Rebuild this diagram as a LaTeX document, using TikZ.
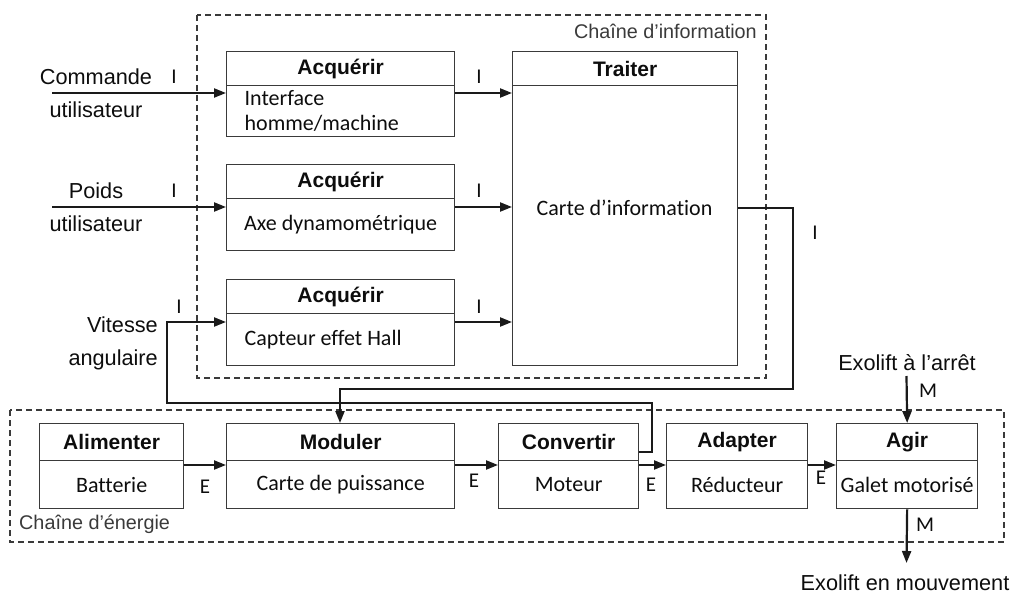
\documentclass[tikz,border=0pt]{standalone}
\usepackage{fontspec}
\setmainfont{Liberation Sans}
\newfontfamily\calib{Carlito}[Ligatures=NoCommon]
\usetikzlibrary{arrows.meta,calc}
\definecolor{boxc}{HTML}{3A3A3A}
\definecolor{linec}{HTML}{1A1A1A}
\definecolor{txtc}{HTML}{0D0D0D}
\tikzset{
  tbox/.style={draw=boxc, line width=1.3pt, inner sep=0pt, anchor=north west, text=txtc,
    font=\fontsize{21}{22}\selectfont\bfseries},
  bbox/.style={draw=boxc, line width=1.3pt, inner sep=0pt, anchor=north west, text=txtc,
    align=center, font=\calib\fontsize{22}{25}\selectfont},
  conn/.style={line width=2.2pt, draw=linec},
  arr/.style={conn, -{Triangle[length=12pt,width=9pt]}},
  lbl/.style={text=txtc, inner sep=0pt, font=\fontsize{21.7}{33}\selectfont},
  small/.style={text=boxc, inner sep=0pt, font=\fontsize{19.8}{22}\selectfont},
  sig/.style={text=txtc, inner sep=0pt, font=\calib\fontsize{21}{24}\selectfont},
  chain/.style={draw=boxc, dash pattern=on 6pt off 4pt, line width=1.1pt},
}
\begin{document}
\begin{tikzpicture}[x=1pt, y=-1pt]
\useasboundingbox (0,0) rectangle (1031,604);

% dashed chains
\draw[chain] (197,15) rectangle (766,378);
\draw[chain] (10,410) rectangle (1004,542);
\node[small, anchor=east] (chinfo) at (757,31) {Chaîne d’information};
\node[small, anchor=west] (chener) at (19,524) {Chaîne d’énergie};

% information chain boxes
\node[tbox, minimum width=228pt, minimum height=34pt] (acq1t) at (226,51) {Acquérir};
\node[bbox, minimum width=228pt, minimum height=51pt, text width=192pt, align=flush left] (acq1) at (226,85) {Interface\\homme/machine};
\node[tbox, minimum width=228pt, minimum height=34pt] (acq2t) at (226,164) {Acquérir};
\node[bbox, minimum width=228pt, minimum height=52pt] (acq2) at (226,198) {Axe dynamométrique};
\node[tbox, minimum width=228pt, minimum height=34pt] (acq3t) at (226,279) {Acquérir};
\node[bbox, minimum width=228pt, minimum height=52pt, text width=192pt, align=flush left] (acq3) at (226,313) {Capteur effet Hall};
\node[tbox, minimum width=225pt, minimum height=34pt] (trat) at (512,51) {Traiter};
\node[bbox, minimum width=225pt, minimum height=280pt] (tra) at (512,85) {};
\node[bbox, draw=none, anchor=center] (tratxt) at (624.5,208) {Carte d’information};

% energy chain boxes
\node[tbox, minimum width=144pt, minimum height=37pt] (alimt) at (39,423) {Alimenter};
\node[bbox, minimum width=144pt, minimum height=48pt] (alim) at (39,460) {Batterie};
\node[tbox, minimum width=228pt, minimum height=37pt] (modt) at (226,423) {Moduler};
\node[bbox, minimum width=228pt, minimum height=48pt] (mod) at (226,460) {Carte de puissance};
\node[tbox, minimum width=140pt, minimum height=37pt] (convt) at (498,423) {Convertir};
\node[bbox, minimum width=140pt, minimum height=48pt] (conv) at (498,460) {Moteur};
\node[tbox, minimum width=141pt, minimum height=37pt] (adat) at (666,423) {Adapter};
\node[bbox, minimum width=141pt, minimum height=48pt] (ada) at (666,460) {Réducteur};
\node[tbox, minimum width=141pt, minimum height=37pt] (agirt) at (836,423) {Agir};
\node[bbox, minimum width=141pt, minimum height=48pt] (agir) at (836,460) {Galet motorisé};

% outside labels
\node[lbl, align=center] (cmd) at (96,93) {Commande\\utilisateur};
\node[lbl, align=center] (poids) at (96,207) {Poids\\utilisateur};
\node[lbl, align=right, anchor=east] (vit) at (158,343) {Vitesse\\angulaire};
\node[lbl] (arret) at (907,363) {Exolift à l’arrêt};
\node[lbl] (mouv) at (905,583) {Exolift en mouvement};

% coordinates
\coordinate (inA) at (52,93);
\coordinate (inB) at (52,207);
\coordinate (v1) at (652,452);
\coordinate (v2) at (652,403);
\coordinate (v3) at (167,403);
\coordinate (v4) at (167,322);
\coordinate (t1) at (793,208);
\coordinate (t2) at (793,389);
\coordinate (t3) at (340,389);
\coordinate (e) at (0,465);
\coordinate (ag1) at (906.5,376);
\coordinate (ag2) at (906.5,563);

% connectors
\draw[arr] (inA) -- (inA -| acq1.west);
\draw[arr] (acq1.east |- inA) -- (tra.west |- inA);
\draw[arr] (inB) -- (inB -| acq2.west);
\draw[arr] (acq2.east |- inB) -- (tra.west |- inB);
\draw[arr] (conv.east |- v1) -- (v1) -- (v2) -- (v3) -- (v4) -- (v4 -| acq3.west);
\draw[arr] (acq3.east |- v4) -- (tra.west |- v4);
\draw[arr] (tra.east |- t1) -- (t1) -- (t2) -- (t3) -- (t3 |- modt.north);
\draw[arr] (alim.east |- e) -- (mod.west |- e);
\draw[arr] (mod.east |- e) -- (conv.west |- e);
\draw[arr] (conv.east |- e) -- (ada.west |- e);
\draw[arr] (ada.east |- e) -- (agir.west |- e);
\draw[arr] (ag1) -- (agirt.north);
\draw[arr] (agir.south) -- (ag2);

% signal labels
\node[sig] (i1) at (174,77) {I};
\node[sig] (i2) at (174,191) {I};
\node[sig] (i3) at (179,307) {I};
\node[sig] (i4) at (479,77) {I};
\node[sig] (i5) at (479,191) {I};
\node[sig] (i6) at (479,307) {I};
\node[sig] (i7) at (815,233) {I};
\node[sig] (e1) at (205,487) {E};
\node[sig] (e2) at (474,481) {E};
\node[sig] (e3) at (651,485) {E};
\node[sig] (e4) at (821,478) {E};
\node[sig] (m1) at (928,391) {M};
\node[sig] (m2) at (925,525) {M};
\end{tikzpicture}
\end{document}
